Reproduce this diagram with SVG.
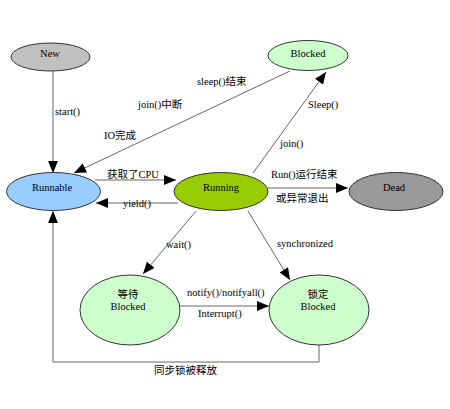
<svg xmlns="http://www.w3.org/2000/svg" width="450" height="409" viewBox="0 0 450 409">
<style>
text{font-family:"Liberation Serif","Noto Sans CJK SC",serif;font-size:10.5px;fill:#000}
.n{text-anchor:middle}
.e{stroke:#333;stroke-width:1}
.c{stroke:#666;stroke-width:1;fill:none}
</style>
<defs>
<marker id="a" markerUnits="userSpaceOnUse" markerWidth="12" markerHeight="10" refX="12" refY="5" orient="auto">
<path d="M0,0 L12,5 L0,10 Z" fill="#000"/>
</marker>
</defs>
<rect width="450" height="409" fill="#fff"/>
<g id="connectors">
<line class="c" x1="53" y1="71" x2="53" y2="173" marker-end="url(#a)"/>
<line class="c" x1="290" y1="71" x2="74" y2="173" marker-end="url(#a)"/>
<line class="c" x1="95" y1="180" x2="176" y2="180" marker-end="url(#a)"/>
<line class="c" x1="178" y1="203" x2="96" y2="203" marker-end="url(#a)"/>
<line class="c" x1="253" y1="173" x2="326" y2="72" marker-end="url(#a)"/>
<line class="c" x1="268" y1="188" x2="348" y2="188" marker-end="url(#a)"/>
<line class="c" x1="196" y1="211" x2="143" y2="274" marker-end="url(#a)"/>
<line class="c" x1="248" y1="211" x2="290" y2="280" marker-end="url(#a)"/>
<line class="c" x1="180" y1="306" x2="269" y2="306" marker-end="url(#a)"/>
<polyline class="c" points="319,345 319,362 53,362 53,211" marker-end="url(#a)"/>
<text x="55" y="115">start()</text>
<text x="197" y="85">sleep()结束</text>
<text x="138" y="108">join()中断</text>
<text x="104" y="139">IO完成</text>
<text x="107" y="178">获取了CPU</text>
<text x="123" y="207">yield()</text>
<text x="308" y="108">Sleep()</text>
<text x="280" y="147">join()</text>
<text x="271" y="178">Run()运行结束</text>
<text x="276" y="202">或异常退出</text>
<text x="166" y="248">wait()</text>
<text x="277" y="247">synchronized</text>
<text x="187" y="296">notify()/notifyall()</text>
<text x="198" y="317">Interrupt()</text>
<text x="154" y="374">同步锁被释放</text>
</g>
<g id="new">
<ellipse class="e" cx="50.5" cy="57" rx="39.5" ry="14" fill="#c0c0c0"/>
<text class="n" x="50" y="57">New</text>
</g>
<g id="blocked">
<ellipse class="e" cx="308" cy="55.5" rx="40" ry="15" fill="#ccffcc"/>
<text class="n" x="308" y="57">Blocked</text>
</g>
<g id="runnable">
<ellipse class="e" cx="53.5" cy="191.5" rx="47" ry="19" fill="#99ccff"/>
<text class="n" x="52" y="191">Runnable</text>
</g>
<g id="running">
<ellipse class="e" cx="221" cy="191.5" rx="47" ry="19" fill="#99cc00"/>
<text class="n" x="221" y="191">Running</text>
</g>
<g id="dead">
<ellipse class="e" cx="396" cy="191.5" rx="47" ry="19" fill="#999999"/>
<text class="n" x="394" y="191">Dead</text>
</g>
<g id="wait-blocked">
<ellipse class="e" cx="130" cy="310" rx="50" ry="35" fill="#ccffcc"/>
<text class="n" x="128" y="298">等待</text>
<text class="n" x="128" y="310">Blocked</text>
</g>
<g id="lock-blocked">
<ellipse class="e" cx="319" cy="310" rx="50" ry="35" fill="#ccffcc"/>
<text class="n" x="318" y="298">锁定</text>
<text class="n" x="318" y="310">Blocked</text>
</g>
</svg>
